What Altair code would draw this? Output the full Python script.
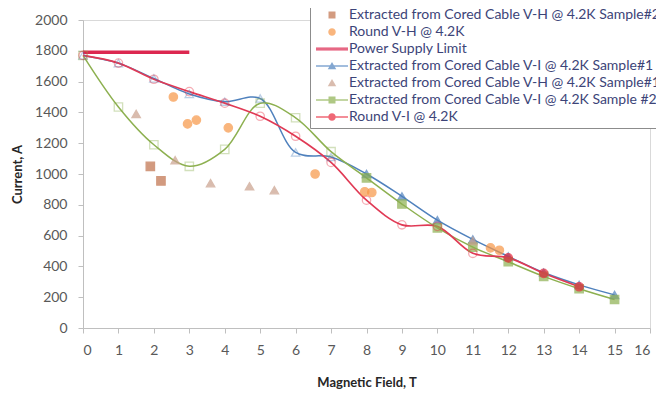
import altair as alt
import pandas as pd

S_VH2 = "Extracted from Cored  Cable V-H @ 4.2K Sample#2"
S_RVH = "Round V-H @ 4.2K"
S_PSL = "Power Supply Limit"
S_VI1 = "Extracted from Cored  Cable V-I @ 4.2K Sample#1"
S_VH1 = "Extracted from Cored  Cable V-H @ 4.2K Sample#1"
S_VI2 = "Extracted from Cored  Cable V-I @ 4.2K Sample #2"
S_RVI = "Round V-I @ 4.2K"

SERIES = [S_VH2, S_RVH, S_PSL, S_VI1, S_VH1, S_VI2, S_RVI]
COLORS = ["#c0704a", "#f79646", "#dc2850", "#4f81bd", "#c9a08c", "#8db050", "#e8283c"]

X_VH2 = [1.9, 2.2]
Y_VH2 = [1050, 955]
X_RVH = [2.55, 2.95, 3.2, 4.1, 6.55, 7.95, 8.15, 11.5, 11.75]
Y_RVH = [1500, 1325, 1350, 1300, 1000, 885, 880, 520, 505]
X_PSL = [0, 3]
Y_PSL = [1790, 1790]
X_VI1 = [0, 1, 2, 3, 4, 5, 6, 7, 8, 9, 10, 11, 12, 13, 14, 15]
Y_VI1 = [1770, 1720, 1620, 1520, 1470, 1490, 1140, 1110, 1000, 855, 700, 575, 465, 360, 280, 215]
X_VH1 = [1.5, 2.6, 3.6, 4.7, 5.4, 11.0]
Y_VH1 = [1390, 1090, 940, 920, 895, 565]
X_VI2 = [0, 1, 2, 3, 4, 5, 6, 7, 8, 9, 10, 11, 12, 13, 14, 15]
Y_VI2 = [1770, 1435, 1190, 1050, 1160, 1460, 1365, 1145, 975, 805, 650, 525, 430, 335, 255, 185]
X_RVI = [0, 1, 2, 3, 4, 5, 6, 7, 8, 9, 10, 11, 12, 13, 14]
Y_RVI = [1770, 1720, 1615, 1535, 1460, 1375, 1245, 1075, 830, 670, 660, 485, 455, 355, 268]

X_TICKS = list(range(0, 17))
Y_TICKS = list(range(0, 2001, 200))


def frame(name, xs, ys):
    return pd.DataFrame({"series": name, "x": xs, "y": ys})


df = pd.concat([
    frame(S_PSL, X_PSL, Y_PSL),
    frame(S_VI1, X_VI1, Y_VI1),
    frame(S_VI2, X_VI2, Y_VI2),
    frame(S_RVI, X_RVI, Y_RVI),
    frame(S_VH2, X_VH2, Y_VH2),
    frame(S_RVH, X_RVH, Y_RVH),
    frame(S_VH1, X_VH1, Y_VH1),
], ignore_index=True)

FONT = "Lato"

x_enc = alt.X("x:Q", scale=alt.Scale(domain=[0, 16], nice=False),
              axis=alt.Axis(values=X_TICKS, grid=False, tickSize=5, labelPadding=10,
                            domainColor="#bfbfbf", tickColor="#bfbfbf",
                            labelColor="#595959", labelFont=FONT, labelFontSize=14,
                            title="Magnetic Field, T", titleFont=FONT, titleFontSize=13,
                            titleFontWeight="bold", titleColor="#262626",
                            titleX=283.5, titleY=54, titleBaseline="middle"))
y_enc = alt.Y("y:Q", scale=alt.Scale(domain=[0, 2000], nice=False),
              axis=alt.Axis(values=Y_TICKS, format="d", grid=False, tickSize=5, labelPadding=11,
                            domainColor="#bfbfbf", tickColor="#bfbfbf",
                            labelColor="#595959", labelFont=FONT, labelFontSize=14,
                            title="Current, A", titleFont=FONT, titleFontSize=13,
                            titleFontWeight="bold", titleColor="#262626",
                            titleX=-66, titleY=154, titleAngle=270,
                            titleBaseline="middle"))

color_scale = alt.Scale(domain=SERIES, range=COLORS)

POINT_SERIES = [S_VH2, S_RVH, S_VI1, S_VH1, S_VI2, S_RVI]
POINT_SHAPES = ["square", "circle", "triangle-up", "triangle-up", "square", "circle"]

base = alt.Chart(df)

psl = base.transform_filter(alt.datum.series == S_PSL).mark_line(
    color="#dc2850", strokeWidth=3.5
).encode(x=x_enc, y=y_enc)


def smooth_line(name, color, width):
    return base.transform_filter(alt.datum.series == name).mark_line(
        interpolate="catmull-rom", strokeWidth=width, color=color
    ).encode(x=x_enc, y=y_enc, order=alt.Order("x:Q"))


line_vi1 = smooth_line(S_VI1, "#4f81bd", 1.5)
line_vi2 = smooth_line(S_VI2, "#8db050", 1.5)
line_rvi = smooth_line(S_RVI, "#e03a55", 1.7)

solid_expr = (
    "(datum.series == '" + S_RVI + "' ? datum.x >= 11.5 : "
    "((datum.series == '" + S_VI1 + "' || datum.series == '" + S_VI2 + "') ? datum.x >= 7.5 : true)) ? 1 : 0"
)

points = base.transform_filter(
    alt.FieldOneOfPredicate(field="series", oneOf=POINT_SERIES)
).transform_calculate(solid=solid_expr).mark_point(strokeWidth=1.3, size=70).encode(
    x=x_enc, y=y_enc,
    fill=alt.Fill("series:N", scale=color_scale, legend=None),
    stroke=alt.Stroke("series:N", scale=color_scale, legend=None),
    shape=alt.Shape("series:N", scale=alt.Scale(domain=POINT_SERIES, range=POINT_SHAPES), legend=None),
    fillOpacity=alt.FillOpacity("solid:Q", scale=alt.Scale(domain=[0, 1], range=[0, 1]), legend=None),
    strokeOpacity=alt.StrokeOpacity("solid:Q", scale=alt.Scale(domain=[0, 1], range=[0.55, 1]), legend=None),
)

LINE = "M-3.2,-0.13L3.2,-0.13L3.2,0.13L-3.2,0.13Z"
THICK = "M-3.2,-0.32L3.2,-0.32L3.2,0.32L-3.2,0.32Z"
SQ = "M-0.7,-0.7L0.7,-0.7L0.7,0.7L-0.7,0.7Z"
CI = "M0.75,0A0.75,0.75 0 1,1 -0.75,0A0.75,0.75 0 1,1 0.75,0Z"
TR = "M0,-0.8L0.85,0.65L-0.85,0.65Z"
LEGEND_SHAPES = [SQ, CI, THICK, LINE + TR, TR, LINE + SQ, LINE + CI]

legend_layer = base.transform_filter("false").mark_point(filled=True, size=100).encode(
    x=x_enc, y=y_enc,
    color=alt.Color("series:N", scale=color_scale,
                    legend=alt.Legend(orient="none", legendX=227, legendY=-16, title=None,
                                      fillColor="white", strokeColor="#8c8c8c", padding=4,
                                      labelFont=FONT, labelFontSize=14, labelColor="#3c4478",
                                      labelLimit=600, symbolSize=100, symbolOffset=11,
                                      labelOffset=10, rowPadding=3, symbolStrokeWidth=0)),
    shape=alt.Shape("series:N", scale=alt.Scale(domain=SERIES, range=LEGEND_SHAPES)),
)

chart = alt.layer(psl, line_vi1, line_vi2, line_rvi, points, legend_layer).resolve_scale(
    color="independent", shape="independent"
).properties(
    width=567, height=308,
    padding={"left": 75, "top": 12, "right": 6, "bottom": 62},
    autosize=alt.AutoSizeParams(type="none"),
    background="white",
).configure_view(stroke="#d9d9d9", strokeWidth=1)

chart.save("out.html", embed_options={"renderer": "svg", "actions": False})
